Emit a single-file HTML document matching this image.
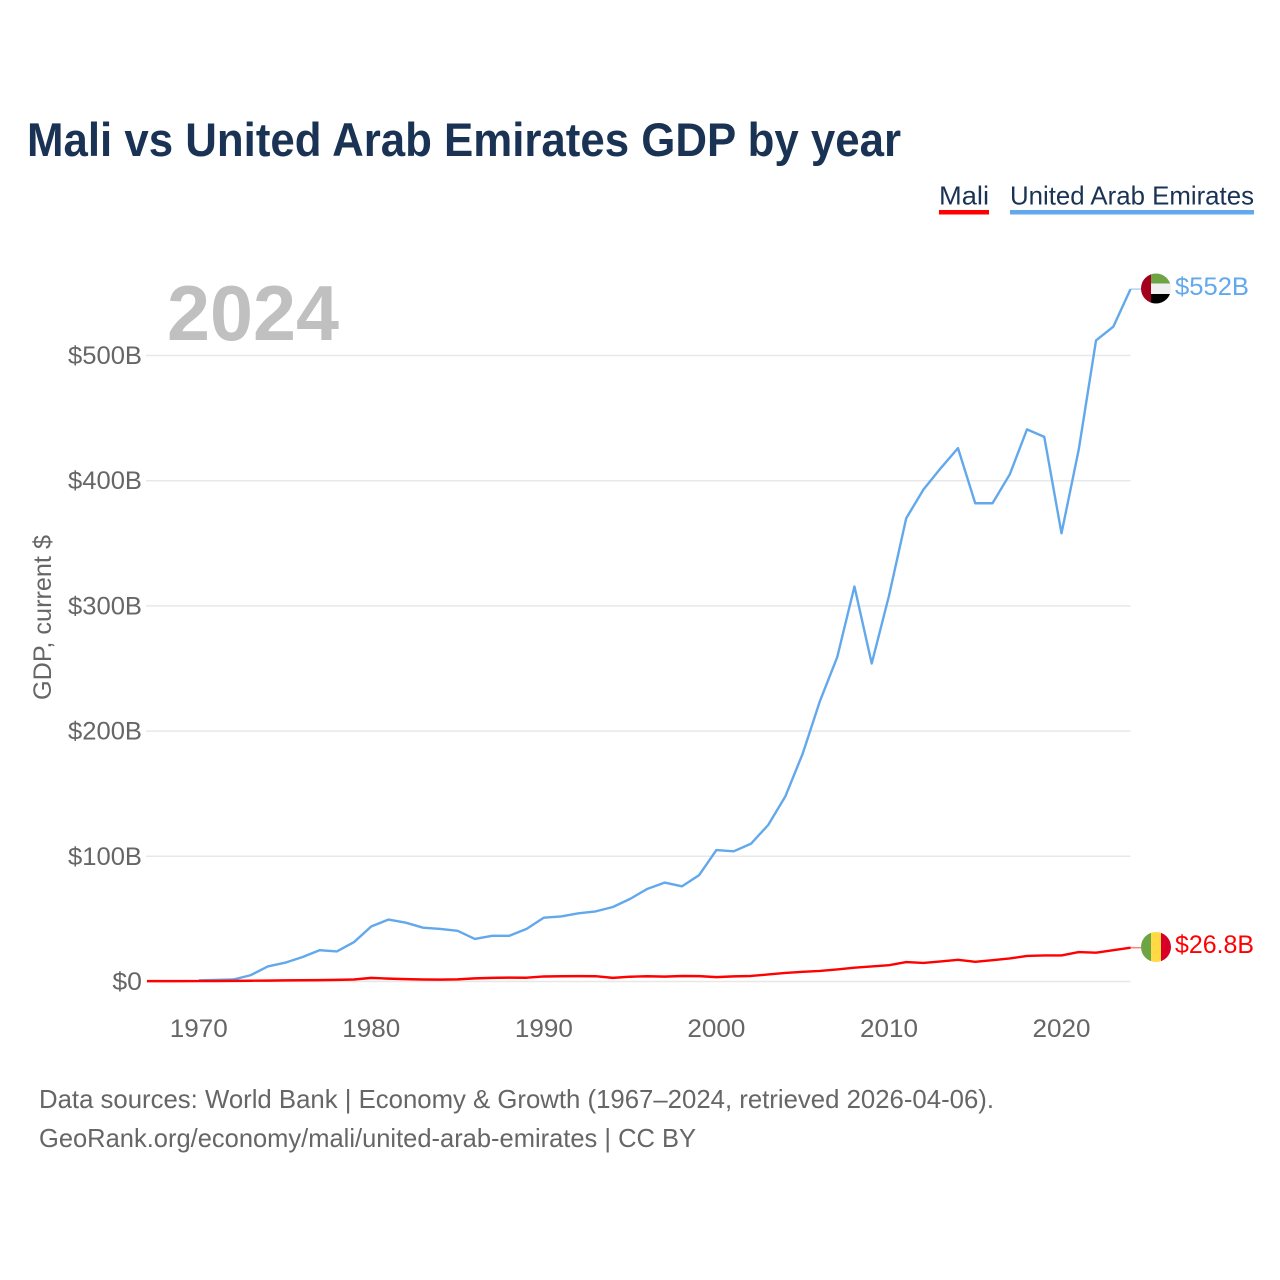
<!DOCTYPE html>
<html lang="en">
<head>
<meta charset="utf-8">
<title>Mali vs United Arab Emirates GDP by year</title>
<style>
html,body{margin:0;padding:0;background:#fff}
svg{display:block}
text{font-family:"Liberation Sans",sans-serif}
</style>
</head>
<body>
<svg id="chart" xmlns="http://www.w3.org/2000/svg" width="1280" height="1280" viewBox="0 0 1280 1280">
  <rect x="0" y="0" width="1280" height="1280" fill="#ffffff"/>
  <text x="27" y="156" font-size="47" font-weight="700" fill="#1a3354" textLength="874" lengthAdjust="spacingAndGlyphs">Mali vs United Arab Emirates GDP by year</text>

  <g>
    <g>
      <text x="939" y="204.5" font-size="26" fill="#1a3354" textLength="50" lengthAdjust="spacingAndGlyphs">Mali</text>
      <rect x="939" y="210" width="50" height="4.5" fill="#ff0000"/>
    </g>
    <g>
      <text x="1010" y="204.5" font-size="26" fill="#1a3354" textLength="244" lengthAdjust="spacingAndGlyphs">United Arab Emirates</text>
      <rect x="1010" y="210" width="244" height="4.5" fill="#62a8ec"/>
    </g>
  </g>

  <text x="167" y="340" font-size="78" font-weight="700" fill="#c0c0c0" textLength="172" lengthAdjust="spacingAndGlyphs">2024</text>
  <text transform="translate(51,700) rotate(-90)" font-size="25" fill="#666666" textLength="165" lengthAdjust="spacingAndGlyphs">GDP, current $</text>

  <g id="grid"></g>
  <g id="ylabels"></g>
  <g id="xlabels"></g>
  <g id="series"></g>

  <defs>
    <clipPath id="clip-uae"><circle cx="1156" cy="288.5" r="15"/></clipPath>
    <clipPath id="clip-mali"><circle cx="1156" cy="947" r="15"/></clipPath>
  </defs>
  <g clip-path="url(#clip-uae)">
    <rect x="1141" y="273" width="30" height="31" fill="#f0f0f0"/>
    <rect x="1150" y="273" width="21" height="10.5" fill="#6da544"/>
    <rect x="1150" y="294" width="21" height="10.5" fill="#000000"/>
    <rect x="1141" y="273" width="10" height="31" fill="#a2001d"/>
  </g>
  <g clip-path="url(#clip-mali)">
    <rect x="1141" y="932" width="10" height="30" fill="#6da544"/>
    <rect x="1151" y="932" width="10.5" height="30" fill="#ffda44"/>
    <rect x="1161" y="932" width="10" height="30" fill="#d80027"/>
  </g>
  <text x="1175" y="295" font-size="25" fill="#62a8ec" textLength="74" lengthAdjust="spacingAndGlyphs">$552B</text>
  <text x="1175" y="953" font-size="25" fill="#ff0000" textLength="79" lengthAdjust="spacingAndGlyphs">$26.8B</text>

  <g>
    <text x="39" y="1108" font-size="26" fill="#666666" textLength="955" lengthAdjust="spacingAndGlyphs">Data sources: World Bank | Economy &amp; Growth (1967–2024, retrieved 2026-04-06).</text>
    <text x="39" y="1147" font-size="26" fill="#666666" textLength="657" lengthAdjust="spacingAndGlyphs">GeoRank.org/economy/mali/united-arab-emirates | CC BY</text>
  </g>
</svg>
<script>
const maliStartYear = 1967;
const uaeStartYear = 1970;
const maliValues = [0.3,0.3,0.3,0.35,0.4,0.5,0.6,0.7,0.9,1,1.1,1.3,1.6,2.9,2.3,1.9,1.6,1.5,1.7,2.5,2.9,3.1,3,4,4.2,4.3,4.2,2.9,3.8,4.2,3.9,4.4,4.3,3.5,4.1,4.4,5.6,6.8,7.7,8.4,9.6,11,12,13,15.5,14.8,16,17.3,15.7,17,18.4,20.4,20.8,20.8,23.5,23,25,27];
const uaeValues = [0.9,1.2,1.6,5,12,15,19.5,25,24,31.5,44,49.5,47,43,42,40.5,34,36.5,36.5,42,51,52,54.5,56,59.5,66,74,79,76,85,105,104,110,125,148,182,224,259,315.5,254,308,370,393,410,426,382,382,405,441,435,358,425,512,523,553];
const yTickValues = [0,100,200,300,400,500];
const yTickLabels = ["$0","$100B","$200B","$300B","$400B","$500B"];
const xTickYears = [1970,1980,1990,2000,2010,2020];

const NS = "http://www.w3.org/2000/svg";
const xScale = function (year) { return 147 + (year - 1967) * 17.255; };
const yScale = function (value) { return 981.5 - value * 1.252; };
const lastYear = 2024;

const gridGroup = document.getElementById("grid");
const yLabelGroup = document.getElementById("ylabels");
yTickValues.forEach(function (v, i) {
  const line = document.createElementNS(NS, "line");
  
  
  line.setAttribute("x1", 146);
  line.setAttribute("x2", xScale(lastYear));
  line.setAttribute("y1", yScale(v));
  line.setAttribute("y2", yScale(v));
  line.setAttribute("stroke", "#e8e8e8");
  line.setAttribute("stroke-width", "1.5");
  gridGroup.appendChild(line);

  const label = document.createElementNS(NS, "text");
  
  
  label.setAttribute("x", 142);
  label.setAttribute("y", yScale(v) + 8.5);
  label.setAttribute("text-anchor", "end");
  label.setAttribute("font-size", "25");
  label.setAttribute("fill", "#666666");
  label.setAttribute("textLength", yTickLabels[i].length * 14.8);
  label.setAttribute("lengthAdjust", "spacingAndGlyphs");
  label.textContent = yTickLabels[i];
  yLabelGroup.appendChild(label);
});

const xLabelGroup = document.getElementById("xlabels");
xTickYears.forEach(function (year) {
  const label = document.createElementNS(NS, "text");
  
  
  label.setAttribute("x", xScale(year));
  label.setAttribute("y", 1037);
  label.setAttribute("text-anchor", "middle");
  label.setAttribute("font-size", "25");
  label.setAttribute("fill", "#666666");
  label.setAttribute("textLength", "58");
  label.setAttribute("lengthAdjust", "spacingAndGlyphs");
  label.textContent = String(year);
  xLabelGroup.appendChild(label);
});

function linePoints(values, startYear) {
  return values.map(function (v, i) {
    return xScale(startYear + i).toFixed(2) + "," + yScale(v).toFixed(2);
  }).join(" ");
}

const seriesGroup = document.getElementById("series");

const uaeLine = document.createElementNS(NS, "polyline");


uaeLine.setAttribute("points", linePoints(uaeValues, uaeStartYear));
uaeLine.setAttribute("fill", "none");
uaeLine.setAttribute("stroke", "#62a8ec");
uaeLine.setAttribute("stroke-width", "2.4");
uaeLine.setAttribute("stroke-linejoin", "round");
seriesGroup.appendChild(uaeLine);

const uaeConnector = document.createElementNS(NS, "line");


uaeConnector.setAttribute("x1", xScale(lastYear));
uaeConnector.setAttribute("x2", 1141);
uaeConnector.setAttribute("y1", yScale(uaeValues[uaeValues.length - 1]));
uaeConnector.setAttribute("y2", yScale(uaeValues[uaeValues.length - 1]));
uaeConnector.setAttribute("stroke", "#62a8ec");
uaeConnector.setAttribute("stroke-opacity", "0.5");
uaeConnector.setAttribute("stroke-width", "1.5");
seriesGroup.appendChild(uaeConnector);

const maliLine = document.createElementNS(NS, "polyline");


maliLine.setAttribute("points", linePoints(maliValues, maliStartYear));
maliLine.setAttribute("fill", "none");
maliLine.setAttribute("stroke", "#ff0000");
maliLine.setAttribute("stroke-width", "2.4");
maliLine.setAttribute("stroke-linejoin", "round");
seriesGroup.appendChild(maliLine);

const maliConnector = document.createElementNS(NS, "line");


maliConnector.setAttribute("x1", xScale(lastYear));
maliConnector.setAttribute("x2", 1141);
maliConnector.setAttribute("y1", yScale(maliValues[maliValues.length - 1]));
maliConnector.setAttribute("y2", yScale(maliValues[maliValues.length - 1]));
maliConnector.setAttribute("stroke", "#ff0000");
maliConnector.setAttribute("stroke-opacity", "0.5");
maliConnector.setAttribute("stroke-width", "1.5");
seriesGroup.appendChild(maliConnector);
</script>
</body>
</html>
